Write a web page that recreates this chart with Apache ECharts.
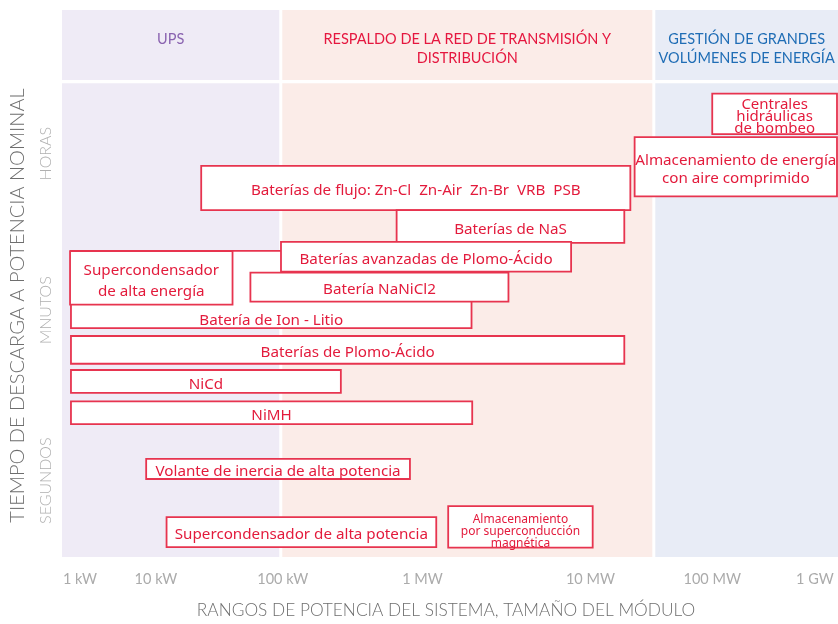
<!DOCTYPE html>
<html>
<head>
<meta charset="utf-8">
<script src="https://cdn.jsdelivr.net/npm/echarts@6/dist/echarts.min.js"></script>
<style>
  html, body { margin: 0; padding: 0; background: #fff; }
  #chart { width: 838px; height: 624px; }
</style>
</head>
<body>
<div id="chart"></div>
<script>
// ámbitos de aplicación (bandas de fondo), potencia en kW
const bandNames = ['UPS', 'RESPALDO DE LA RED DE TRANSMISIÓN Y\nDISTRIBUCIÓN', 'GESTIÓN DE GRANDES\nVOLÚMENES DE ENERGÍA'];
const bandFrom = [0.8, 47.8, 51100];
const bandTo = [47.8, 51100, 1.6e6];

// tecnologías: rango de potencia (kW) y franja de tiempo de descarga (escala relativa 0-552)
const techNames = [
  'Batería de Ion - Litio',
  'Supercondensador\nde alta energía',
  'Baterías de flujo: Zn-Cl  Zn-Air  Zn-Br  VRB  PSB',
  'Baterías de NaS',
  'Baterías avanzadas de Plomo-Ácido',
  'Batería NaNiCl2',
  'Baterías de Plomo-Ácido',
  'NiCd',
  'NiMH',
  'Volante de inercia de alta potencia',
  'Supercondensador de alta potencia',
  'Almacenamiento\npor superconducción\nmagnética',
  'Centrales\nhidráulicas\nde bombeo',
  'Almacenamiento de energía\ncon aire comprimido'
];
const techPowerFrom = [0.946, 0.93, 10.8, 417, 48, 27.1, 0.946, 0.946, 0.946, 3.86, 5.65, 1094, 152400, 35700];
const techPowerTo = [1692, 19.4, 32960, 29440, 10890, 3375, 29440, 147, 1714, 535, 875, 16300, 1.57e6, 1.57e6];
const techTimeLow = [231, 254.7, 350, 317, 288, 257.7, 195, 165.7, 134, 78.7, 10, 9.5, 426.7, 364];
const techTimeHigh = [309, 308.7, 394.7, 350, 318, 287, 223, 188.7, 157, 99, 40.3, 51.3, 467.7, 423.7];

// etiquetas del eje de potencia y de tiempo
const powerTickLabels = ['1 kW', '10 kW', '100 kW', '1 MW', '10 MW', '100 MW', '1 GW'];
const powerTickAt = [1.12, 4.63, 49.6, 676, 15630, 152400, 1.04e6];
const timeLabels = ['HORAS', 'MNUTOS', 'SEGUNDOS'];
const timeLabelAt = [407, 249, 77];

const FONT = 'Lato';
const LABEL_FONT = 'Noto Sans';
const RED = '#e31b3c';
const bandColors = ['#efebf6', '#fbece8', '#e8ecf6'];
const bandTextColors = ['#8a63b0', '#e5173f', '#1f6db5'];

const chart = echarts.init(document.getElementById('chart'));

chart.setOption({
  animation: false,
  grid: { left: 61, right: 0, top: 10, bottom: 62 },
  xAxis: {
    type: 'log', logBase: 10, min: 0.8, max: 1.6e6,
    axisLine: { show: false }, axisTick: { show: false }, splitLine: { show: false },
    axisLabel: { show: false },
    name: 'RANGOS DE POTENCIA DEL SISTEMA, TAMAÑO DEL MÓDULO',
    nameLocation: 'middle', nameGap: 45,
    nameTextStyle: { fontFamily: FONT, fontSize: 17.3, color: '#6e6e6e', fontWeight: 300, padding: [0, 8, 0, 0] }
  },
  yAxis: {
    type: 'value', min: 0, max: 552,
    axisLine: { show: false }, axisTick: { show: false }, splitLine: { show: false },
    axisLabel: { show: false },
    name: 'TIEMPO DE DESCARGA A POTENCIA NOMINAL',
    nameLocation: 'middle', nameGap: 34, nameRotate: 90,
    nameTextStyle: { fontFamily: FONT, fontSize: 20, color: '#6e6e6e', fontWeight: 300, padding: [0, 44, 0, 0] }
  },
  series: [
    {
      // bandas de fondo con su encabezado
      type: 'custom',
      data: bandNames.map((n, i) => [bandFrom[i], bandTo[i], n]),
      renderItem: (params, api) => {
        const i = params.dataIndex;
        const left = api.coord([api.value(0), 552]);
        const right = api.coord([api.value(1), 0]);
        const x0 = left[0] + (i > 0 ? 1.5 : 0);
        const x1 = right[0] - (i < bandNames.length - 1 ? 1.5 : 0);
        const headTop = left[1];
        const headBottom = api.coord([api.value(0), 481.3])[1];
        const bodyTop = api.coord([api.value(0), 478])[1];
        const bodyBottom = right[1];
        return {
          type: 'group',
          children: [
            { type: 'rect', shape: { x: x0, y: headTop, width: x1 - x0, height: headBottom - headTop }, style: { fill: bandColors[i] } },
            { type: 'rect', shape: { x: x0, y: bodyTop, width: x1 - x0, height: bodyBottom - bodyTop }, style: { fill: bandColors[i] } },
            {
              type: 'text',
              style: {
                text: bandNames[i], x: (x0 + x1) / 2, y: headTop + 20,
                align: 'center', verticalAlign: 'top',
                fill: bandTextColors[i], fontFamily: FONT, fontSize: 14.5, lineHeight: 19
              }
            }
          ]
        };
      },
      silent: true,
      z: 1
    },
    {
      // tecnologías de almacenamiento
      type: 'custom',
      data: techNames.map((n, i) => [techPowerFrom[i], techPowerTo[i], techTimeLow[i], techTimeHigh[i], n]),
      renderItem: (params, api) => {
        const i = params.dataIndex;
        const p0 = api.coord([api.value(0), api.value(3)]);
        const p1 = api.coord([api.value(1), api.value(2)]);
        const name = techNames[i];
        let fontSize = 15.2, lineHeight = 21, dy = 3;
        if (name.startsWith('Almacenamiento\n')) { fontSize = 12; lineHeight = 11.8; dy = 5; }
        if (name.startsWith('Centrales')) { fontSize = 15; lineHeight = 11.8; }
        if (name.startsWith('Almacenamiento de')) { lineHeight = 18.5; }
        const bottomLabel = name.startsWith('Batería de Ion');
        return {
          type: 'rect',
          shape: { x: p0[0], y: p0[1], width: p1[0] - p0[0], height: p1[1] - p0[1] },
          style: { fill: '#ffffff', stroke: '#e7344f', lineWidth: 1.8 },
          textContent: {
            style: { text: name, fill: RED, fontFamily: LABEL_FONT, fontSize: fontSize, lineHeight: lineHeight, align: 'center' }
          },
          textConfig: bottomLabel
            ? { position: 'insideBottom', distance: 0, offset: [0, 2] }
            : { position: 'inside', offset: [0, dy] }
        };
      },
      z: 2
    },
    {
      // etiquetas del eje de potencia
      type: 'custom',
      data: powerTickLabels.map((t, i) => [powerTickAt[i], t]),
      renderItem: (params, api) => {
        const p = api.coord([api.value(0), 0]);
        return {
          type: 'text',
          style: {
            text: powerTickLabels[params.dataIndex], x: p[0], y: p[1] + 22,
            align: 'center', verticalAlign: 'middle',
            fill: '#ababab', fontFamily: FONT, fontSize: 14.5
          }
        };
      },
      silent: true,
      z: 3
    },
    {
      // franjas del eje de tiempo
      type: 'custom',
      data: timeLabels.map((t, i) => [0.8, timeLabelAt[i], t]),
      renderItem: (params, api) => {
        const p = api.coord([api.value(0), api.value(1)]);
        return {
          type: 'text',
          x: p[0] - 16, y: p[1], rotation: Math.PI / 2,
          style: {
            text: timeLabels[params.dataIndex], x: 0, y: 0,
            align: 'center', verticalAlign: 'middle',
            fill: '#b0b0b0', fontFamily: FONT, fontSize: 16, fontWeight: 300
          }
        };
      },
      silent: true,
      z: 3
    }
  ]
});
</script>
</body>
</html>
